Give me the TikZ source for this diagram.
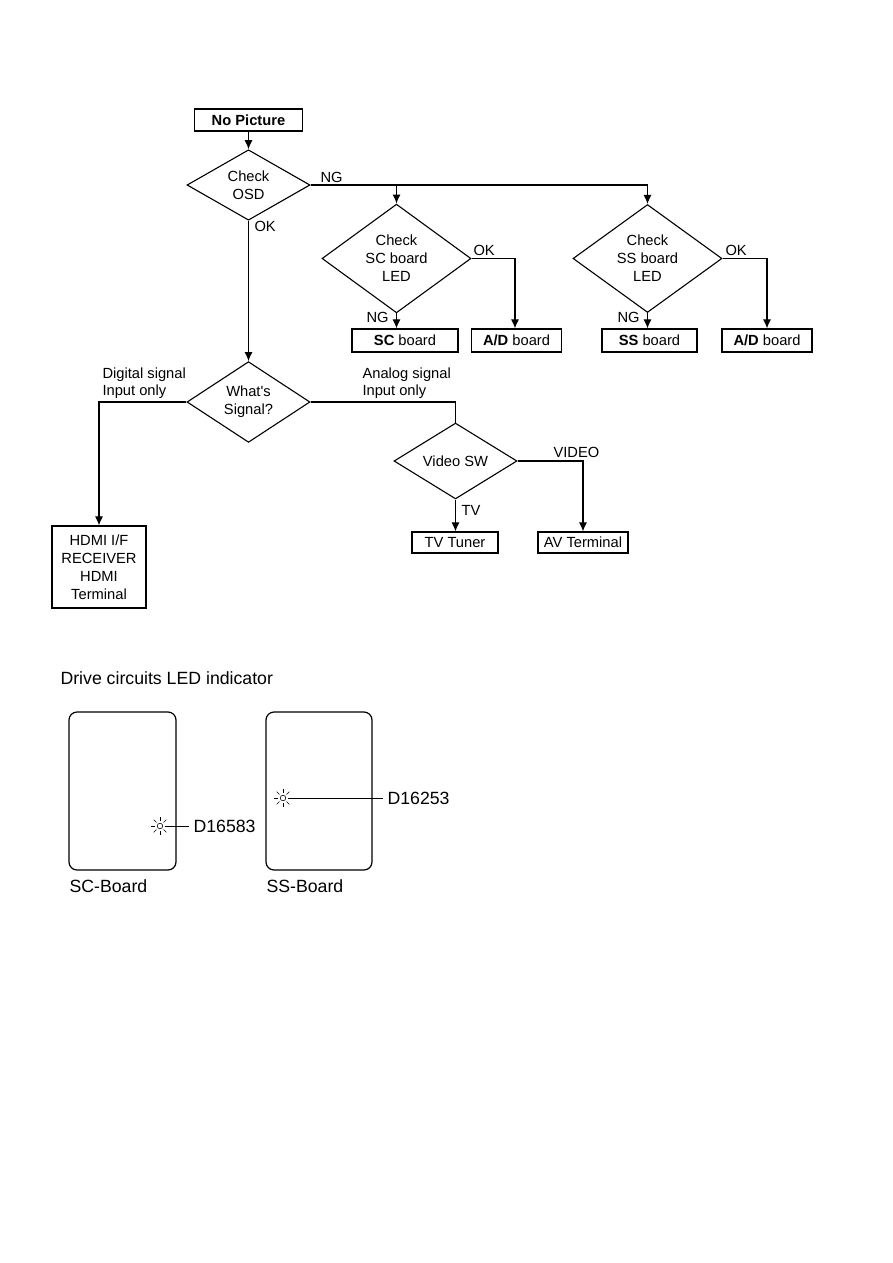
\documentclass[tikz,border=0pt]{standalone}
\usepackage{fontspec}
\setmainfont{Liberation Sans}
\usetikzlibrary{shapes.geometric,arrows.meta,calc}
\begin{document}
\begin{tikzpicture}[x=1pt,y=-1pt,
  line width=1.1pt,
  every node/.style={font=\fontsize{14.7}{18}\selectfont},
  box/.style={draw,rectangle,inner sep=0pt,align=center,line width=1.2pt},
  dia/.style={draw,diamond,inner sep=0pt,align=center,line width=1.1pt},
  arr/.style={-{Latex[length=9pt,width=8pt]}},
  lbl/.style={anchor=base west,inner sep=0pt},
  big/.style={font=\fontsize{17.7}{21}\selectfont},
  board/.style={draw,rectangle,rounded corners=8pt,inner sep=0pt,line width=1.2pt}
]
\useasboundingbox (0,0) rectangle (893,1263);

% nodes
\node[box,minimum width=108pt,minimum height=22pt] (nopic) at (248.5,120) {\textbf{No Picture}};
\node[dia,minimum width=123pt,minimum height=66pt] (osd) at (248.5,185) {Check\\OSD};
\node[dia,minimum width=149pt,minimum height=103pt] (scled) at (396.5,258.5) {Check\\SC board\\LED};
\node[dia,minimum width=149pt,minimum height=103pt] (ssled) at (647.5,258.5) {Check\\SS board\\LED};
\node[box,minimum width=106pt,minimum height=23pt] (scb) at (405,340.5) {\textbf{SC} board};
\node[box,minimum width=90pt,minimum height=23pt] (ad1) at (516.5,340.5) {\textbf{A/D} board};
\node[box,minimum width=95pt,minimum height=23pt] (ssb) at (649.5,340.5) {\textbf{SS} board};
\node[box,minimum width=90pt,minimum height=23pt] (ad2) at (767,340.5) {\textbf{A/D} board};
\node[dia,minimum width=123pt,minimum height=64pt] (sig) at (248.5,402) {What\textquotesingle s\\Signal?};
\node[box,minimum width=94pt,minimum height=82pt] (hdmi) at (99,567) {HDMI I/F\\RECEIVER\\HDMI\\Terminal};
\node[dia,minimum width=123pt,minimum height=64pt] (vsw) at (455.5,461) {Video SW};
\node[box,minimum width=86pt,minimum height=21pt] (tvt) at (455,542.5) {TV Tuner};
\node[box,minimum width=90pt,minimum height=21pt] (avt) at (583,542.5) {AV Terminal};

% connectors
\draw[arr] (nopic.south) -- (osd.north);
\draw[arr] (osd.east) -| (ssled.north);
\draw[arr] (scled.north |- osd.east) -- (scled.north);
\draw[arr] (osd.south) -- (sig.north);
\draw[arr] (scled.south) -- (scled.south |- scb.north);
\draw[arr] (scled.east) -| ($(ad1.north)+(-1.5,0)$);
\draw[arr] (ssled.south) -- (ssled.south |- ssb.north);
\draw[arr] (ssled.east) -| (ad2.north);
\draw[arr] (sig.west) -| (hdmi.north);
\draw (sig.east) -| (vsw.north);
\draw[arr] (vsw.south) -- (vsw.south |- tvt.north);
\draw[arr] (vsw.east) -| (avt.north);

% labels
\node[lbl] (lng) at (320,182) {NG};
\node[lbl] (lok) at (254,231) {OK};
\node[lbl] (scok) at (473,255) {OK};
\node[lbl] (scng) at (366,322) {NG};
\node[lbl] (ssok) at (725,255) {OK};
\node[lbl] (ssng) at (617,322) {NG};
\node[lbl] (dig1) at (102,378) {Digital signal};
\node[lbl] (dig2) at (102,395) {Input only};
\node[lbl] (ana1) at (362,378) {Analog signal};
\node[lbl] (ana2) at (362,395) {Input only};
\node[lbl] (lvid) at (553,457) {VIDEO};
\node[lbl] (ltv) at (461,515) {TV};

% bottom section
\node[lbl,big] (title) at (60,684.5) {Drive circuits LED indicator};
\node[board,minimum width=107pt,minimum height=158pt] (scbrd) at (122.5,791) {};
\node[board,minimum width=106pt,minimum height=158pt] (ssbrd) at (319,791) {};
\node[lbl,big] (scname) at (69,892.5) {SC-Board};
\node[lbl,big] (ssname) at (266,892.5) {SS-Board};

\coordinate (led1) at (160,826);
\coordinate (led2) at (283,798);
\foreach \c in {led1,led2}{
  \draw[line width=0.6pt] (\c) circle (2.8pt);
  \foreach \a in {0,45,...,315}{
    \draw[line width=0.6pt] ($(\c)+(\a:5pt)$) -- ($(\c)+(\a:9pt)$);
  }
}
\node[lbl,big,anchor=west] (d1) at (193,826) {D16583};
\node[lbl,big,anchor=west] (d2) at (387,798) {D16253};
\draw[line width=0.8pt] ($(led1)+(9,0)$) -- ($(d1.west)+(-4,0)$);
\draw[line width=0.8pt] ($(led2)+(9,0)$) -- ($(d2.west)+(-4,0)$);
\end{tikzpicture}
\end{document}
